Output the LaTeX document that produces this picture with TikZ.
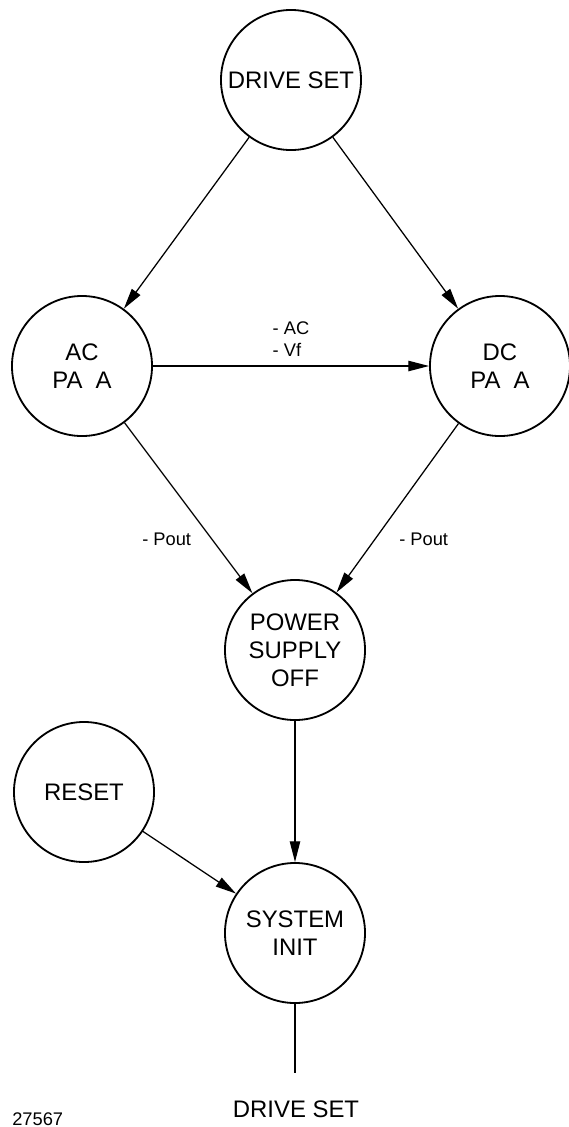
\documentclass[tikz,border=0pt]{standalone}
\usepackage{fontspec}
\setmainfont{Liberation Sans}
\usetikzlibrary{arrows.meta}
\tikzset{
  state/.style={draw,circle,line width=1.3pt,minimum size=3.5cm,inner sep=0pt,
    align=center,font=\fontsize{17}{19.9}\selectfont},
  trans/.style={line width=0.9pt,-{Triangle[length=0.52cm,width=0.26cm]}},
  lbl/.style={inner sep=0pt,font=\fontsize{13}{16.3}\selectfont}
}

\begin{document}
\begin{tikzpicture}[x=0.025cm,y=-0.025cm]
\useasboundingbox (0,0) rectangle (569,1127);
% states
\node [state] (drive) at (291,80) {DRIVE SET};
\node [state] (acpa) at (82,366) {AC\\PA\ \ A};
\node [state] (dcpa) at (500,366) {DC\\PA\ \ A};
\node [state] (power) at (295,650) {POWER\\SUPPLY\\OFF};
\node [state] (reset) at (84,792) {RESET};
\node [state] (sysinit) at (295,933) {SYSTEM\\INIT};
% transitions
\draw [trans] (drive) -- (acpa);
\draw [trans] (drive) -- (dcpa);
\draw [trans] (acpa) -- node [lbl,above=6pt,align=left] (acvf) {- AC\\- Vf} (dcpa);
\draw [trans] (acpa) -- (power);
\draw [trans] (dcpa) -- (power);
\node [lbl,anchor=base west] (poutac) at (142,545) {- Pout};
\node [lbl,anchor=base west] (poutdc) at (399,545) {- Pout};
\draw [trans] (power) -- (sysinit);
\draw [trans] (reset) -- (sysinit);
\coordinate (loop) at (295,1073);
\draw [line width=0.9pt] (sysinit) -- (loop);
\node [anchor=base,font=\fontsize{17}{19.9}\selectfont] (backdrive) at (296,1117) {DRIVE SET};
\node [lbl,anchor=base west] (fignum) at (12,1125) {27567};
\end{tikzpicture}
\end{document}
